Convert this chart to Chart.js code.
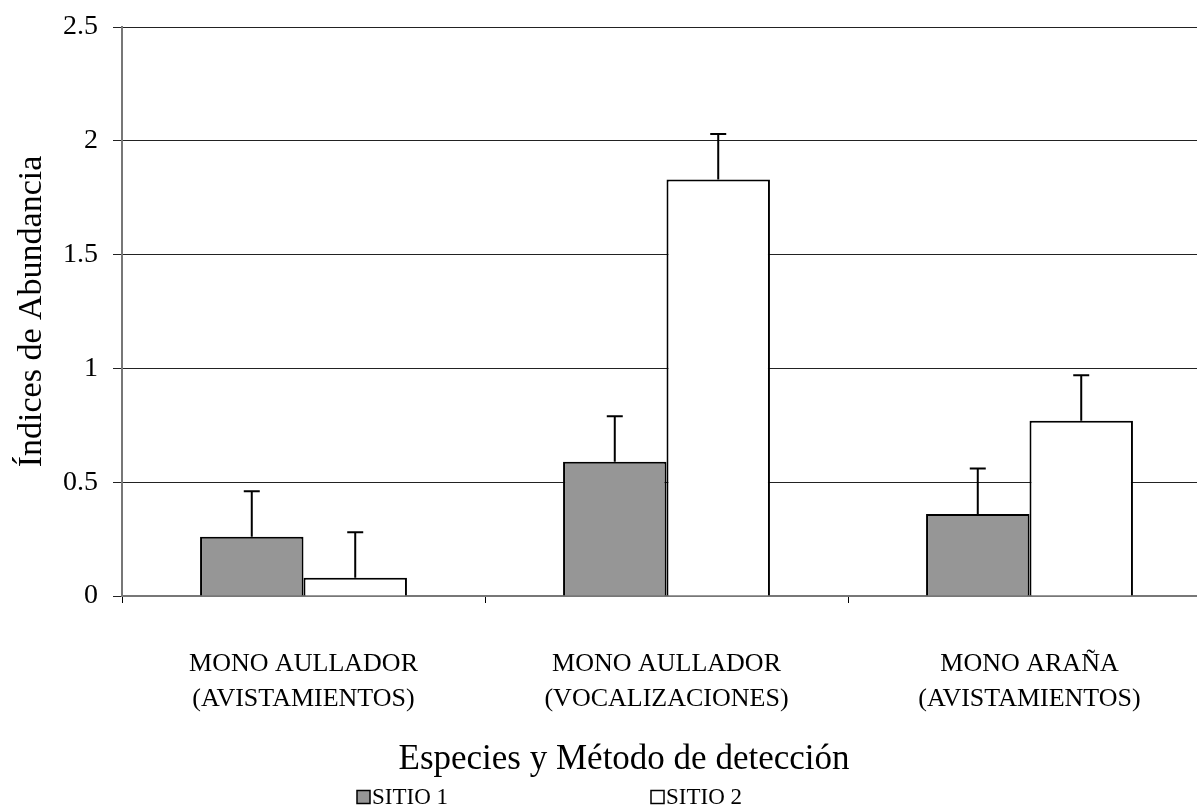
<!DOCTYPE html>
<html>
<head>
<meta charset="utf-8">
<script src="https://cdn.jsdelivr.net/npm/chart.js@4.4.1/dist/chart.umd.min.js"></script>
<style>
  html, body { margin: 0; padding: 0; background: #fff; }
  #wrap { width: 1197px; height: 812px; overflow: hidden; position: relative; }
  #inner { width: 1215px; height: 812px; }
</style>
</head>
<body>
<div id="wrap"><div id="inner"><canvas id="abundancia"></canvas></div></div>
<script>
// índices de abundancia por especie / método, dos sitios
const categorias = [
  ['MONO AULLADOR', '(AVISTAMIENTOS)'],
  ['MONO AULLADOR', '(VOCALIZACIONES)'],
  ['MONO ARAÑA', '(AVISTAMIENTOS)']
];
const sitio1 = [0.26, 0.59, 0.36];
const sitio2 = [0.08, 1.83, 0.77];
const errSitio1 = [0.2, 0.2, 0.2];
const errSitio2 = [0.2, 0.2, 0.2];
const yTicks = [0, 0.5, 1, 1.5, 2, 2.5];
const tituloX = 'Especies y Método de detección';
const tituloY = 'Índices de Abundancia';

const FONT = "'Liberation Serif', 'Times New Roman', serif";

// barras de error (solo hacia arriba)
const errorBars = {
  id: 'errorBars',
  afterDatasetsDraw(chart) {
    const ctx = chart.ctx;
    const y = chart.scales.y;
    ctx.save();
    ctx.strokeStyle = '#000';
    ctx.lineWidth = 2;
    chart.data.datasets.forEach((ds, i) => {
      const meta = chart.getDatasetMeta(i);
      meta.data.forEach((bar, j) => {
        const top = y.getPixelForValue(ds.data[j] + ds.errores[j]);
        ctx.beginPath();
        ctx.moveTo(bar.x, bar.y);
        ctx.lineTo(bar.x, top);
        ctx.moveTo(bar.x - 8, top);
        ctx.lineTo(bar.x + 8, top);
        ctx.stroke();
      });
    });
    ctx.restore();
  }
};

// título del eje x y leyenda, abajo
const pie = {
  id: 'pie',
  afterDraw(chart) {
    const ctx = chart.ctx;
    ctx.save();
    ctx.fillStyle = '#000';
    ctx.textBaseline = 'middle';
    ctx.textAlign = 'center';
    ctx.font = '35px ' + FONT;
    ctx.fillText(tituloX, 624, 760);

    const startX = 357, gap = 294, cy = 797, box = 13;
    ctx.font = '23px ' + FONT;
    ctx.textAlign = 'left';
    chart.data.datasets.forEach((ds, i) => {
      const x = startX + i * gap;
      ctx.fillStyle = ds.backgroundColor;
      ctx.fillRect(x, cy - box / 2, box, box);
      ctx.strokeStyle = '#000';
      ctx.lineWidth = 1.5;
      ctx.strokeRect(x, cy - box / 2, box, box);
      ctx.fillStyle = '#000';
      ctx.fillText(ds.label, x + box + 2, cy + 1);
    });
    ctx.restore();
  }
};

new Chart(document.getElementById('abundancia'), {
  type: 'bar',
  data: {
    labels: categorias,
    datasets: [
      {
        label: 'SITIO 1',
        data: sitio1,
        errores: errSitio1,
        backgroundColor: '#969696',
        borderColor: '#000',
        borderWidth: 2
      },
      {
        label: 'SITIO 2',
        data: sitio2,
        errores: errSitio2,
        backgroundColor: '#ffffff',
        borderColor: '#000',
        borderWidth: 2
      }
    ]
  },
  options: {
    responsive: true,
    maintainAspectRatio: false,
    animation: false,
    datasets: { bar: { categoryPercentage: 0.57, barPercentage: 1 } },
    layout: { padding: { left: 0, right: 4, top: 0, bottom: 0 } },
    plugins: {
      legend: { display: false },
      tooltip: { enabled: false }
    },
    scales: {
      x: {
        offset: true,
        grid: {
          offset: true,
          drawOnChartArea: false,
          drawTicks: true,
          tickLength: 7,
          color: '#000'
        },
        border: { color: '#777', width: 2 },
        ticks: {
          color: '#000',
          font: { family: FONT, size: 26, lineHeight: 1.35 },
          padding: 44,
          maxRotation: 0,
          autoSkip: false
        },
        afterFit(scale) { scale.height = 216; }
      },
      y: {
        min: 0,
        max: 2.5,
        afterBuildTicks(scale) { scale.ticks = yTicks.map(v => ({ value: v })); },
        grid: { color: '#222', lineWidth: 1, tickLength: 9 },
        border: { color: '#777', width: 2 },
        ticks: {
          color: '#000',
          font: { family: FONT, size: 28 },
          padding: 15,
          callback: v => String(v)
        },
        title: {
          display: true,
          text: tituloY,
          color: '#000',
          font: { family: FONT, size: 34 },
          padding: { top: 12, bottom: 0 }
        },
        afterFit(scale) {
          scale.width = 122;
          scale.paddingTop = 27;
        }
      }
    }
  },
  plugins: [errorBars, pie]
});
</script>
</body>
</html>
